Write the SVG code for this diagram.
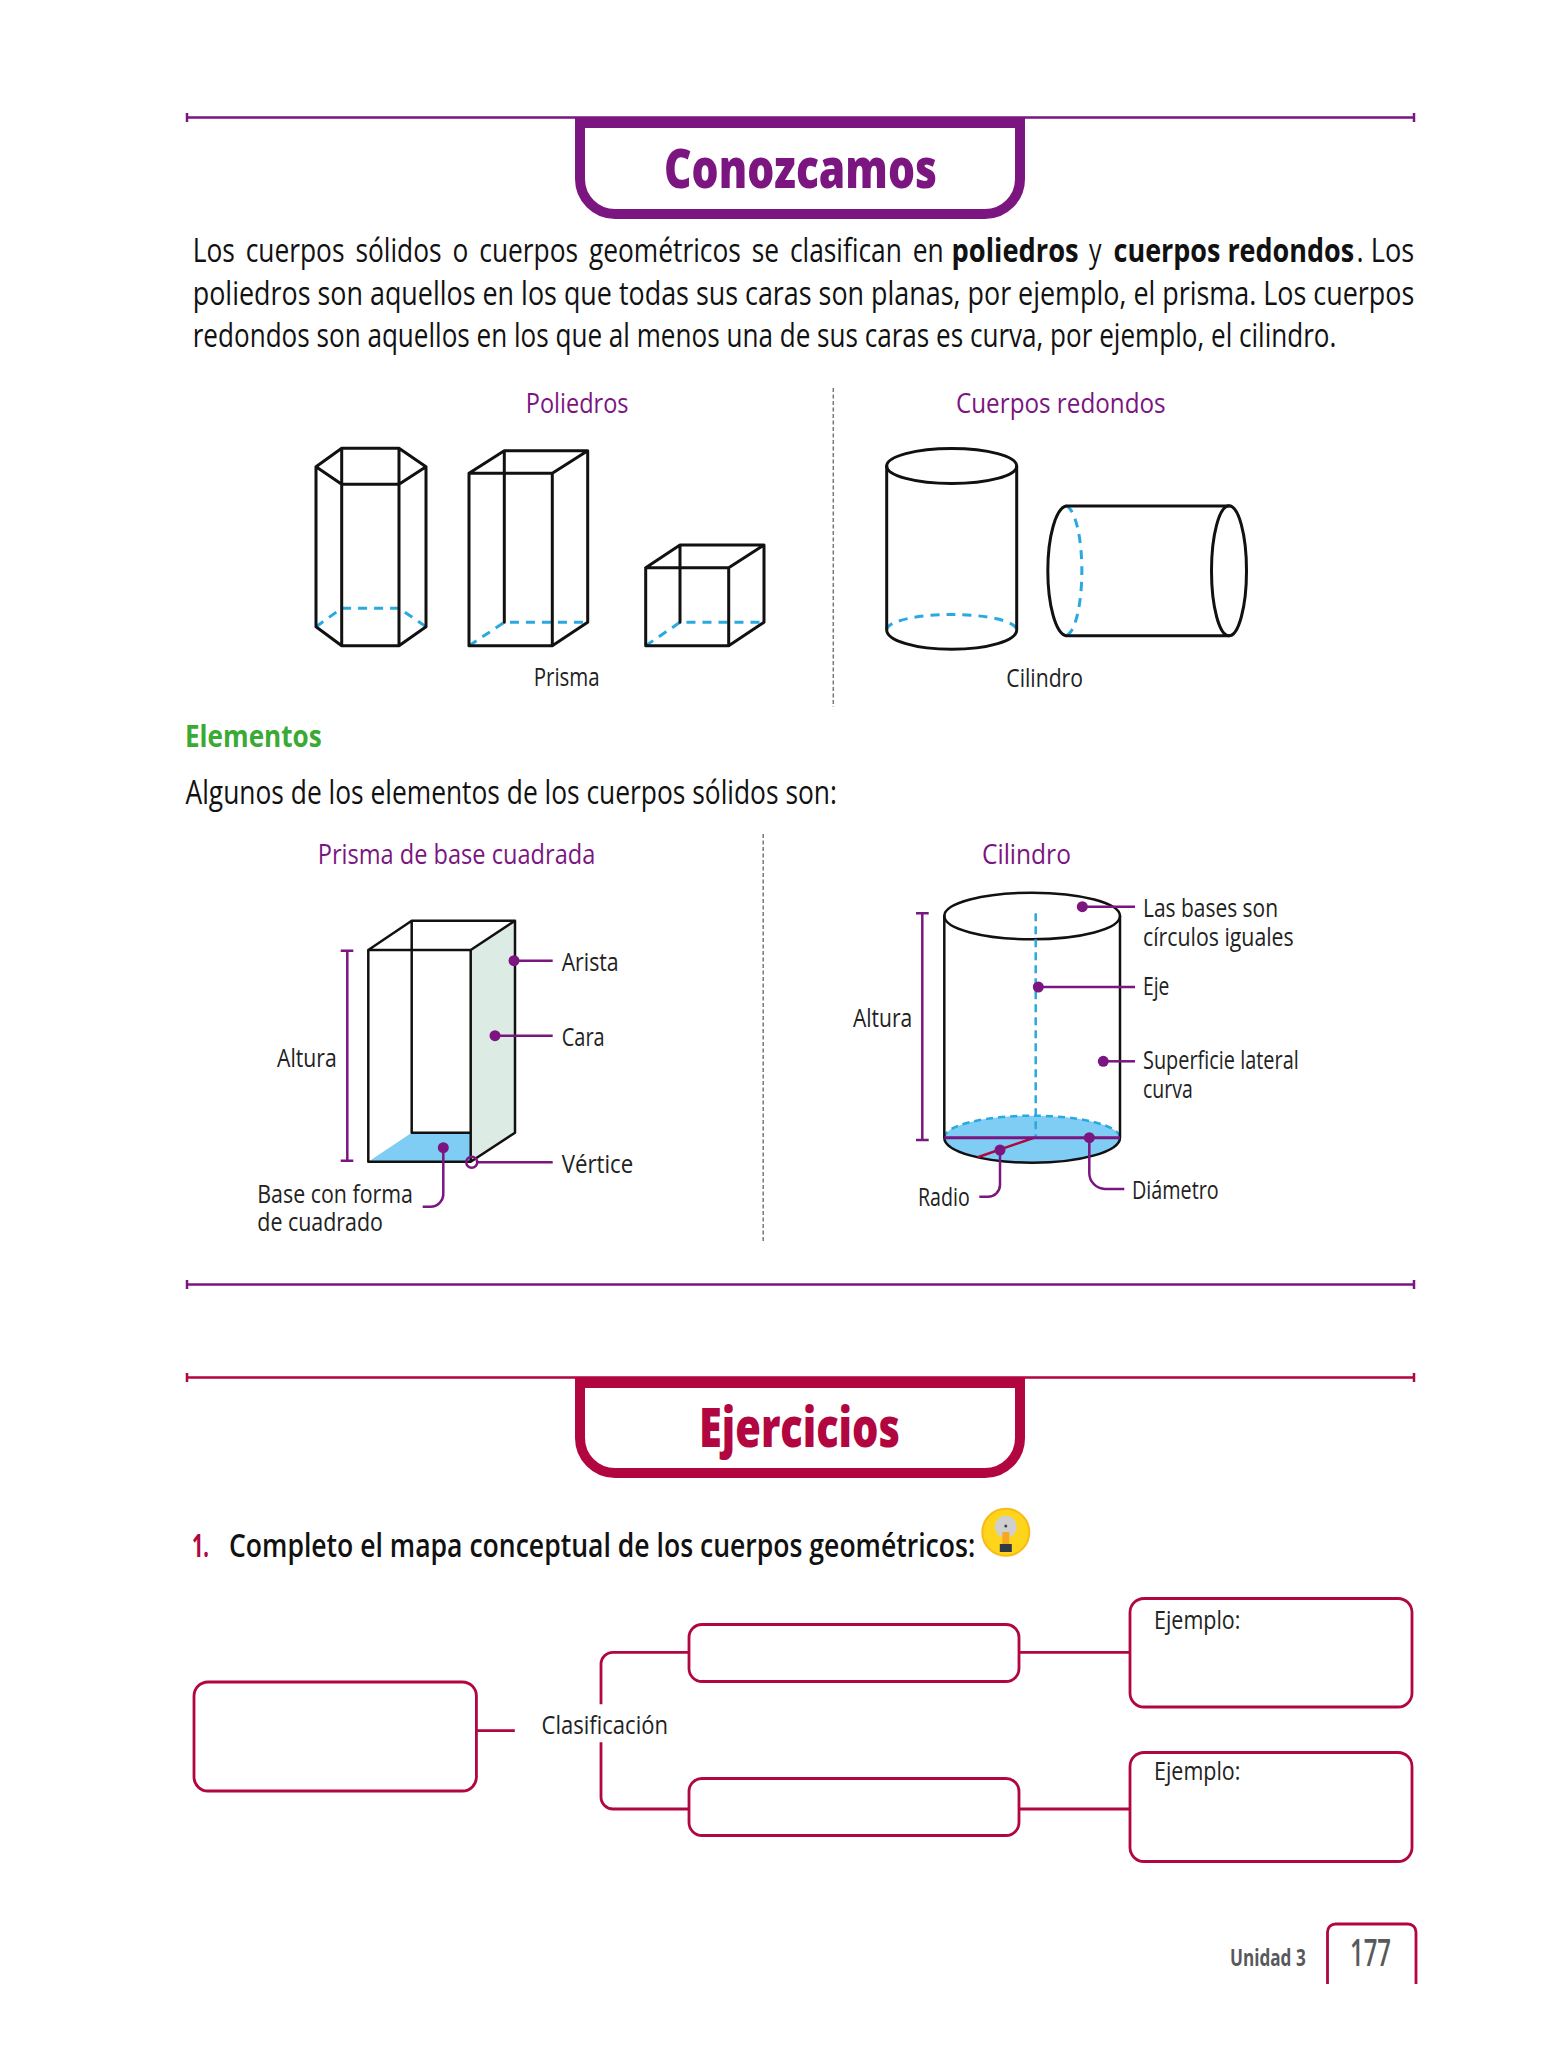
<svg xmlns="http://www.w3.org/2000/svg" width="1564" height="2048" viewBox="0 0 1564 2048">
<style>
text{font-family:"Open Sans","Noto Sans","DejaVu Sans",sans-serif;fill:#1a1a1a;font-size:27px}
.body{font-size:32px;fill:#111}
.b{font-weight:700}
.title{font-size:55px;font-weight:800}
.p{fill:#7b1580;font-weight:500}
.r{fill:#b1063f}
.g{fill:#3aaa35}
.lab{font-size:26px;fill:#222}
.foot{fill:#58595b}
.sol{fill:none;stroke:#111;stroke-width:3;stroke-linejoin:round;stroke-linecap:round}
.thin{fill:none;stroke:#111;stroke-width:2.5;stroke-linejoin:round;stroke-linecap:round}
.dash{fill:none;stroke:#29a9e0;stroke-width:3;stroke-dasharray:9 7}
.lp{fill:none;stroke:#7b1580;stroke-width:2.5}
.lc{fill:none;stroke:#b1063f;stroke-width:2.5}
.dot{fill:#7b1580}
.sep{fill:none;stroke:#777;stroke-width:1.5;stroke-dasharray:4 2.5}
.box{fill:#fff;stroke:#b1063f;stroke-width:2.8}
.conn{fill:none;stroke:#b1063f;stroke-width:2.8}
</style>

<g id="conozcamos-header">
<path class="lp" d="M187 117.500H1414M187 113V122M1414 113V122"/>
<path fill="none" stroke="#7b1580" stroke-width="10" d="M580 118V179A35 35 0 0 0 615 214H985A35 35 0 0 0 1020 179V118"/>
<rect x="575" y="117" width="450" height="11" fill="#7b1580"/>
<text class="title" style="fill:#7b1580" x="664" y="187.500" textLength="273" lengthAdjust="spacingAndGlyphs">Conozcamos</text>
</g>

<g id="intro-text">
<text class="body" transform="translate(192.700 262) scale(.76 1)" style="word-spacing:5px" textLength="988.200" lengthAdjust="spacingAndGlyphs">Los cuerpos sólidos o cuerpos geométricos se clasifican en</text>
<text class="body b" transform="translate(951.600 262) scale(.73 1)" textLength="174" lengthAdjust="spacingAndGlyphs">poliedros</text>
<text class="body" x="1089" y="262" textLength="12.500" lengthAdjust="spacingAndGlyphs">y</text>
<text class="body b" transform="translate(1113.600 262) scale(.76 1)" textLength="316.400" lengthAdjust="spacingAndGlyphs">cuerpos redondos</text>
<text class="body" transform="translate(1356.600 262) scale(.76 1)" textLength="75.700" lengthAdjust="spacingAndGlyphs">. Los</text>
<text class="body" transform="translate(192.700 305) scale(.74 1)" textLength="1650.700" lengthAdjust="spacingAndGlyphs">poliedros son aquellos en los que todas sus caras son planas, por ejemplo, el prisma. Los cuerpos</text>
<text class="body" transform="translate(192.700 347) scale(.72 1)" textLength="1588.500" lengthAdjust="spacingAndGlyphs">redondos son aquellos en los que al menos una de sus caras es curva, por ejemplo, el cilindro.</text>
</g>

<g id="section-poliedros">
<text class="p" x="525.800" y="412.700" textLength="102.700" lengthAdjust="spacingAndGlyphs">Poliedros</text>
<g id="prisma-hexagonal">
<path class="dash" d="M316 626.700L341.700 608.300H399L426 626.700"/>
<path class="sol" d="M316 466.700L341.700 448.300H399L426 466.700L399 484.300H341.700ZM316 466.700V626.700L341.700 645.700H399L426 626.700V466.700M341.700 448.300V645.700M399 448.300V645.700"/>
</g>
<g id="prisma-alto">
<path class="dash" d="M469 645.700L504.300 622.300H587.700"/>
<path class="sol" d="M469 473.300H552.300V645.700H469ZM469 473.300L504.300 450.700H587.700L552.300 473.300M587.700 450.700V622.300L552.300 645.700M504.300 450.700V622.300"/>
</g>
<g id="prisma-cubo">
<path class="dash" d="M645.700 645.700L680 622.300H764"/>
<path class="sol" d="M645.700 567.700H728.700V645.700H645.700ZM645.700 567.700L680 545H764L728.700 567.700M764 545V622.300L728.700 645.700M680 545V622.300"/>
</g>
<text class="lab" x="533.700" y="686" textLength="66" lengthAdjust="spacingAndGlyphs">Prisma</text>
</g>

<path id="separador-1" class="sep" d="M833.300 388V707"/>

<g id="section-cuerpos">
<text class="p" x="956" y="412.700" textLength="209.600" lengthAdjust="spacingAndGlyphs">Cuerpos redondos</text>
<g id="cilindro-vertical">
<path class="dash" d="M886.700 630A65 15.500 0 0 1 1016.700 630"/>
<ellipse class="sol" cx="951.700" cy="466" rx="65" ry="17.500"/>
<path class="sol" d="M886.700 466V630A65 19.300 0 0 0 1016.700 630V466"/>
</g>
<g id="cilindro-horizontal">
<path class="dash" d="M1066 506A17 65 0 0 1 1066 635.700"/>
<ellipse class="sol" cx="1229" cy="570.800" rx="17.500" ry="65"/>
<path class="sol" d="M1229 506H1066A19.500 65 0 0 0 1066 635.700H1229"/>
</g>
<text class="lab" x="1006.300" y="686.700" textLength="76.700" lengthAdjust="spacingAndGlyphs">Cilindro</text>
</g>

<g id="elementos-text">
<text class="g b" style="font-size:30px" x="185" y="746.700" textLength="136.700" lengthAdjust="spacingAndGlyphs">Elementos</text>
<text class="body" x="185.500" y="803.800" textLength="651.400" lengthAdjust="spacingAndGlyphs">Algunos de los elementos de los cuerpos sólidos son:</text>
</g>

<g id="prisma-elementos">
<text class="p" x="317.700" y="864" textLength="277.600" lengthAdjust="spacingAndGlyphs">Prisma de base cuadrada</text>
<polygon points="470.700,950 515,920.700 515,1132.700 470.700,1161.700" fill="#dcebe3"/>
<polygon points="368.300,1161.700 411.700,1132.700 470.700,1132.700 470.700,1161.700" fill="#7fcdf5"/>
<path class="thin" d="M368.300 950H470.700V1161.700H368.300ZM368.300 950L411.700 920.700H515L470.700 950M515 920.700V1132.700L470.700 1161.700M411.700 920.700V1132.700H470.700"/>
<path class="lp" d="M347.300 950.700V1160.700M340.700 950.700H353.300M340.700 1160.700H353.300"/>
<text class="lab" x="277" y="1066.700" textLength="59.700" lengthAdjust="spacingAndGlyphs">Altura</text>
<circle class="dot" cx="514" cy="960.700" r="5.500"/>
<path class="lp" d="M514 960.700H552.700"/>
<text class="lab" x="561.700" y="971" textLength="57" lengthAdjust="spacingAndGlyphs">Arista</text>
<circle class="dot" cx="495" cy="1035.700" r="5.500"/>
<path class="lp" d="M495 1035.700H552.700"/>
<text class="lab" x="561.700" y="1046" textLength="43" lengthAdjust="spacingAndGlyphs">Cara</text>
<circle cx="471.700" cy="1162.300" r="5.500" fill="none" stroke="#7b1580" stroke-width="2.500"/>
<path class="lp" d="M477.200 1162.300H552.700"/>
<text class="lab" x="561.700" y="1172.500" textLength="71.600" lengthAdjust="spacingAndGlyphs">Vértice</text>
<circle class="dot" cx="443.300" cy="1147.700" r="5.500"/>
<path class="lp" d="M443.300 1147.700V1193A13 13 0 0 1 430 1206.700H422.700"/>
<text class="lab" x="257.300" y="1202.700" textLength="155.700" lengthAdjust="spacingAndGlyphs">Base con forma</text>
<text class="lab" x="257.300" y="1231" textLength="125.700" lengthAdjust="spacingAndGlyphs">de cuadrado</text>
</g>

<path id="separador-2" class="sep" d="M763.200 834V1243"/>

<g id="cilindro-elementos">
<text class="p" x="982" y="864" textLength="88.900" lengthAdjust="spacingAndGlyphs">Cilindro</text>
<path d="M944.300 1137.700A87.850 22 0 0 1 1120 1137.700A87.850 25 0 0 1 944.300 1137.700Z" fill="#7fcdf5"/>
<path class="dash" style="stroke-width:2.500;stroke-dasharray:7 5" d="M944.300 1137.700A87.850 22 0 0 1 1120 1137.700"/>
<ellipse class="thin" cx="1032.150" cy="916" rx="87.850" ry="23.300"/>
<path class="thin" d="M944.300 916V1137.700A87.850 25 0 0 0 1120 1137.700V916"/>
<path class="dash" style="stroke-width:2.500;stroke-dasharray:8 5" d="M1035.700 913.300V1137.700"/>
<path class="lc" d="M1034 1137.700L977.700 1157.300"/>
<path class="lp" style="stroke-width:3" d="M944.300 1137.700H1120"/>
<path class="lp" d="M922.300 913.300V1140M916 913.300H928.700M916 1140H928.700"/>
<text class="lab" x="853" y="1026.700" textLength="59.300" lengthAdjust="spacingAndGlyphs">Altura</text>
<circle class="dot" cx="1082.300" cy="906.700" r="5.500"/>
<path class="lp" d="M1082.300 906.700H1135"/>
<text class="lab" x="1143" y="916.700" textLength="135" lengthAdjust="spacingAndGlyphs">Las bases son</text>
<text class="lab" x="1143" y="945.700" textLength="150.700" lengthAdjust="spacingAndGlyphs">círculos iguales</text>
<circle class="dot" cx="1038.300" cy="987" r="5.500"/>
<path class="lp" d="M1038.300 987H1135"/>
<text class="lab" x="1143" y="995" textLength="26.400" lengthAdjust="spacingAndGlyphs">Eje</text>
<circle class="dot" cx="1103.300" cy="1061.300" r="5.500"/>
<path class="lp" d="M1103.300 1061.300H1135"/>
<text class="lab" x="1143" y="1069" textLength="155.700" lengthAdjust="spacingAndGlyphs">Superficie lateral</text>
<text class="lab" x="1143" y="1097.700" textLength="49.700" lengthAdjust="spacingAndGlyphs">curva</text>
<circle class="dot" cx="1000" cy="1150" r="5.500"/>
<path class="lp" d="M1000 1150V1185A12 12 0 0 1 988 1196.700H979.300"/>
<text class="lab" x="918" y="1206" textLength="51.700" lengthAdjust="spacingAndGlyphs">Radio</text>
<circle class="dot" cx="1089.300" cy="1137.700" r="5.500"/>
<path class="lp" d="M1089.300 1137.700V1173A16 16 0 0 0 1105 1189H1124.300"/>
<text class="lab" x="1132" y="1199" textLength="86.700" lengthAdjust="spacingAndGlyphs">Diámetro</text>
</g>

<path id="linea-cierre" class="lp" d="M187 1284.500H1414M187 1280V1289M1414 1280V1289"/>

<g id="ejercicios-header">
<path class="lc" d="M187 1377.500H1414M187 1373V1382M1414 1373V1382"/>
<path fill="none" stroke="#b1063f" stroke-width="10" d="M580 1378V1438A35 35 0 0 0 615 1473H985A35 35 0 0 0 1020 1438V1378"/>
<rect x="575" y="1377" width="450" height="11" fill="#b1063f"/>
<text class="title r" x="699" y="1447" textLength="201" lengthAdjust="spacingAndGlyphs">Ejercicios</text>
</g>

<g id="consigna">
<text class="body b r" x="192" y="1556.500" textLength="17" lengthAdjust="spacingAndGlyphs">1.</text>
<text class="body" style="font-weight:600" x="229" y="1556.500" textLength="746.200" lengthAdjust="spacingAndGlyphs">Completo el mapa conceptual de los cuerpos geométricos:</text>
<g id="bombilla">
<circle cx="1005.800" cy="1532.300" r="23.500" fill="#ffd51c" stroke="#fbb916" stroke-width="2"/>
<circle cx="1005.800" cy="1526.700" r="11" fill="#cfcfcf"/>
<circle cx="1005.800" cy="1526" r="1.500" fill="#444"/>
<rect x="1002.300" y="1532" width="7" height="12" fill="#f7a823"/>
<rect x="999.800" y="1544" width="12" height="8" fill="#2f3a44"/>
</g>
</g>

<g id="conectores">
<path class="conn" d="M477 1730.700H514.800"/>
<path class="conn" d="M689 1652.300H613A12 12 0 0 0 601 1664.300V1704.300M601 1742.300V1797A12 12 0 0 0 613 1809H689"/>
<path class="conn" d="M1019.800 1652.300H1130M1019.800 1809H1130"/>
</g>
<g id="nodo-cuerpos"><rect class="box" x="194" y="1682" width="282.400" height="109" rx="14"/></g>
<g id="nodo-clasificacion"><text class="lab" x="541.500" y="1734" textLength="126.500" lengthAdjust="spacingAndGlyphs">Clasificación</text></g>
<g id="nodo-poliedros"><rect class="box" x="689" y="1624.500" width="330" height="57" rx="13"/></g>
<g id="nodo-redondos"><rect class="box" x="689" y="1778.500" width="330" height="57" rx="13"/></g>
<g id="nodo-ejemplo-1"><rect class="box" x="1130" y="1598.500" width="282" height="108.500" rx="14"/><text class="lab" x="1154" y="1629" textLength="86.400" lengthAdjust="spacingAndGlyphs">Ejemplo:</text></g>
<g id="nodo-ejemplo-2"><rect class="box" x="1130" y="1752.500" width="282" height="109" rx="14"/><text class="lab" x="1154" y="1780" textLength="86.400" lengthAdjust="spacingAndGlyphs">Ejemplo:</text></g>

<g id="pie">
<text class="foot b" style="font-size:23px" x="1230" y="1966" textLength="75.700" lengthAdjust="spacingAndGlyphs">Unidad 3</text>
<path class="conn" d="M1327.500 1984V1932A8 8 0 0 1 1335.500 1924H1408A8 8 0 0 1 1416 1932V1984"/>
<text class="foot" style="font-size:38px;font-weight:600" x="1350" y="1966" textLength="41" lengthAdjust="spacingAndGlyphs">177</text>
</g>
</svg>
